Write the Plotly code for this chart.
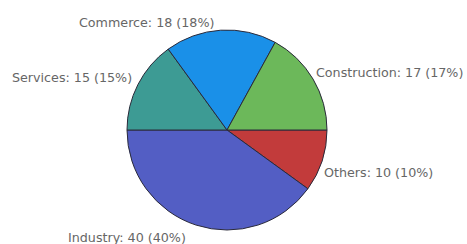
import plotly.graph_objects as go

labels = ["Others", "Industry", "Services", "Commerce", "Construction"]
values = [10, 40, 15, 18, 17]
colors = ["#c23b3b", "#535ec4", "#3d9b94", "#1a90e8", "#6cb85a"]

W, H = 467, 244
total = sum(values)

def px_x(p):
    return p / W

def px_y(p):
    return 1 - p / H

fig = go.Figure(go.Pie(
    labels=labels, values=values, sort=False, direction="clockwise", rotation=90,
    marker=dict(colors=colors, line=dict(color="#2a2a3a", width=1)),
    textinfo="none", hoverinfo="label+value+percent", showlegend=False,
    domain=dict(x=[px_x(127), px_x(327)], y=[px_y(230), px_y(30)]),
))

# label anchor positions in pixels (left edge, vertical centre)
label_pos = {
    "Commerce": (77, 23),
    "Services": (10, 77),
    "Construction": (314, 72),
    "Others": (322, 172),
    "Industry": (66, 237),
}
for lab, val in zip(labels, values):
    px, py = label_pos[lab]
    fig.add_annotation(
        text=f"{lab}: {val} ({round(val / total * 100)}%)",
        x=px_x(px), y=px_y(py), xref="paper", yref="paper",
        xanchor="left", yanchor="middle", showarrow=False,
        font=dict(family="DejaVu Sans", size=12.7, color="#666666"),
    )

fig.update_layout(
    width=W, height=H, margin=dict(l=0, r=0, t=0, b=0),
    paper_bgcolor="white", plot_bgcolor="white",
)
fig.write_html(
    "out.html",
    config={"displayModeBar": False},
    post_script="document.body.style.margin='0';document.body.style.overflow='hidden';",
)
